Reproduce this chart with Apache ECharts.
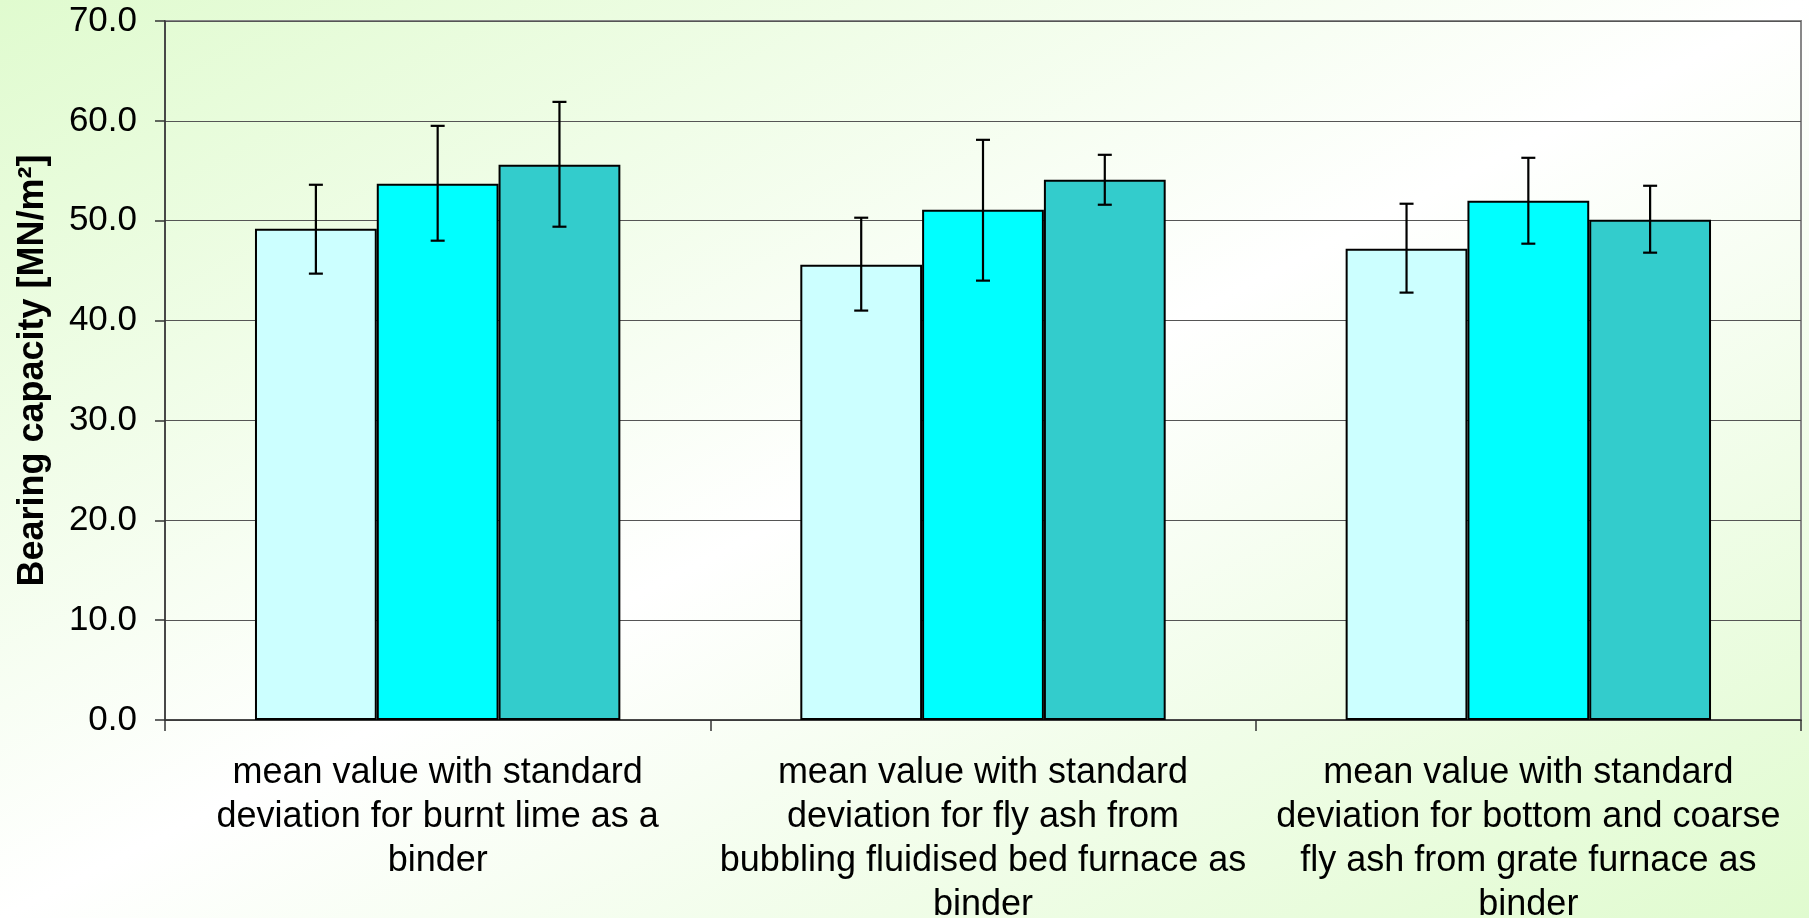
<!DOCTYPE html>
<html>
<head>
<meta charset="utf-8">
<script src="https://cdn.jsdelivr.net/npm/echarts@6/dist/echarts.min.js"></script>
<style>
html,body{margin:0;padding:0;width:1809px;height:918px;overflow:hidden;}
#chart{width:1809px;height:918px;background:linear-gradient(to bottom right,#e0fbcf 0%,#ffffff 50%,#e0fbcf 100%);}
</style>
</head>
<body>
<div id="chart"></div>
<script>
const categories = [
  'mean value with standard\ndeviation for burnt lime as a\nbinder',
  'mean value with standard\ndeviation for fly ash from\nbubbling fluidised bed furnace as\nbinder',
  'mean value with standard\ndeviation for bottom and coarse\nfly ash from grate furnace as\nbinder'
];
const yTicks = [0, 10, 20, 30, 40, 50, 60, 70];
const series1 = [49.2, 45.6, 47.2];
const series2 = [53.7, 51.1, 52.0];
const series3 = [55.6, 54.1, 50.1];
const series1Low = [44.7, 41.0, 42.8];
const series1High = [53.6, 50.3, 51.7];
const series2Low = [48.0, 44.0, 47.7];
const series2High = [59.5, 58.1, 56.3];
const series3Low = [49.4, 51.6, 46.8];
const series3High = [61.9, 56.6, 53.5];
const colors = ['#CCFFFF', '#00FFFF', '#33CCCC'];

const FONT = '"Liberation Sans", Arial, sans-serif';
const CAT_GAP = 0.33;

function errSeries(k, low, high) {
  return {
    type: 'custom',
    z: 10,
    renderItem: function (params, api) {
      const idx = api.value(0);
      const lo = api.value(1);
      const hi = api.value(2);
      const band = api.size([1, 0])[0];
      const barW = band * (1 - CAT_GAP) / 3;
      const base = api.coord([idx, lo]);
      const top = api.coord([idx, hi]);
      const x = base[0] + (k - 1) * barW;
      const cap = 7;
      const st = { stroke: '#000', lineWidth: 2.2 };
      return {
        type: 'group',
        children: [
          { type: 'line', shape: { x1: x, y1: base[1], x2: x, y2: top[1] }, style: st },
          { type: 'line', shape: { x1: x - cap, y1: base[1], x2: x + cap, y2: base[1] }, style: st },
          { type: 'line', shape: { x1: x - cap, y1: top[1], x2: x + cap, y2: top[1] }, style: st }
        ]
      };
    },
    encode: { x: 0, y: [1, 2] },
    data: categories.map((c, i) => [i, low[i], high[i]])
  };
}

function barSeries(name, data, color) {
  return {
    name: name,
    type: 'bar',
    data: data,
    barGap: '0%',
    barCategoryGap: (CAT_GAP * 100) + '%',
    itemStyle: { color: color, borderColor: '#000', borderWidth: 2 },
    emphasis: { disabled: true }
  };
}

const chart = echarts.init(document.getElementById('chart'));
chart.setOption({
  animation: false,
  textStyle: { fontFamily: FONT },
  grid: {
    left: 165, right: 8, top: 21, bottom: 198,
    containLabel: false,
    outerBoundsMode: 'none',
    show: true, borderColor: '#888', borderWidth: 2, backgroundColor: 'transparent'
  },
  xAxis: {
    type: 'category',
    data: categories,
    axisLine: { lineStyle: { color: '#333', width: 1.5 } },
    axisTick: { show: true, length: 11, interval: 0, lineStyle: { color: '#333', width: 1.5 } },
    axisLabel: {
      interval: 0, margin: 31, color: '#000', fontSize: 36, lineHeight: 44,
      fontFamily: FONT, align: 'center'
    },
    splitLine: { show: false }
  },
  yAxis: {
    type: 'value',
    min: yTicks[0], max: yTicks[yTicks.length - 1], interval: 10,
    name: 'Bearing capacity [MN/m²]',
    nameLocation: 'middle',
    nameGap: 114,
    nameRotate: 90,
    nameTextStyle: { fontSize: 36, fontWeight: 'bold', color: '#000', fontFamily: FONT },
    axisLine: { show: true, lineStyle: { color: '#333', width: 1.5 } },
    axisTick: { show: true, length: 10, lineStyle: { color: '#333', width: 1.5 } },
    axisLabel: {
      margin: 28, color: '#000', fontSize: 35, fontFamily: FONT,
      formatter: v => v.toFixed(1)
    },
    splitLine: { show: true, lineStyle: { color: '#555', width: 1.2 } }
  },
  series: [
    barSeries('Series 1', series1, colors[0]),
    barSeries('Series 2', series2, colors[1]),
    barSeries('Series 3', series3, colors[2]),
    errSeries(0, series1Low, series1High),
    errSeries(1, series2Low, series2High),
    errSeries(2, series3Low, series3High)
  ]
});
</script>
</body>
</html>
